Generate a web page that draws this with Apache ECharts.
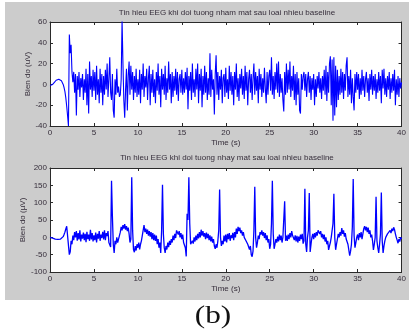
<!DOCTYPE html>
<html>
<head>
<meta charset="utf-8">
<script src="https://cdn.jsdelivr.net/npm/echarts@6/dist/echarts.min.js"></script>
<style>
  html, body { margin: 0; padding: 0; background: #fff; }
  #bg { position: absolute; left: 5px; top: 2px; width: 404px; height: 298px; background: #cccccc; }
  #chart { position: absolute; left: 0; top: 0; width: 409px; height: 335px; }
</style>
</head>
<body>
<div id="bg"></div>
<div id="chart"></div>
<script>
// sample step in seconds (values every 0.1 s)
const TIME_STEP = 0.1;

const titleTop = 'Tin hieu EEG khi doi tuong nham mat sau loai nhieu baseline';
const titleBottom = 'Tin hieu EEG khi doi tuong nhay mat sau loai nhieu baseline';

const timeTicks = [0, 40, 5];          // min, max, step
const topTicks = [-40, 60, 20];
const bottomTicks = [-100, 200, 50];

// eyes closed (uV), one row per second
const nhamMat = [
  -1, -1, -0.5, 0, 1, 2, 3, 4, 4.5, 5,
  5, 5, 4.5, 3.5, 2, 0, -3, -7, -13, -21,
  -30, -40, 48, 30, 38, 12, 2, 12, -8, 10,
  -30, 8, -5, 12, -12, 6, -3, 10, -15, 5,
  -8, 15, -20, 10, -28, 22, -5, 8, -12, 14,
  -6, 12, -15, 18, -10, 5, -18, 15, -8, 10,
  -20, 8, -10, 14, -5, 20, -12, 6, 26, -8,
  -15, 10, -25, -32, 5, -10, 15, -8, -2, -12,
  -10, 5, 62, 20, -15, -32, -5, 15, -25, 8,
  22, -10, 18, -5, 12, -15, 8, -8, 15, -12,
  5, -10, 14, -18, 10, -5, 20, -12, 8, -3,
  15, -15, 6, 18, -20, 10, -8, 14, -12, 5,
  -18, 12, -6, 20, -10, 8, -22, 15, -5, 10,
  -10, 18, -15, 6, -8, 22, -5, 10, -18, 12,
  -12, 8, -6, 15, -10, 12, -16, 5, 10, -8,
  14, -10, 6, -8, 12, -5, 16, -24, 8, -6,
  12, -15, 20, -8, 5, -12, 15, -5, 20, -18,
  10, -6, 15, -22, 8, -10, 18, -8, 12, -15,
  6, -10, 30, -12, 14, -5, 5, -29, 10, 28,
  -10, 12, -15, 8, -5, 14, -18, 6, 10, -12,
  16, -8, 5, -14, 18, -6, 12, -10, 8, -20,
  12, -5, 20, -12, 6, -16, 10, -4, 15, -10,
  8, -14, 18, -6, 12, -20, 5, 14, -8, 10,
  -15, 6, 20, -10, 12, -6, 8, -18, 15, -5,
  10, -12, 6, -8, 16, -4, -18, 12, -10, 8,
  14, -6, 26, -10, 8, -14, 12, -5, 20, -8,
  22, -12, 10, -8, 6, -15, -26, 12, -10, 20,
  -8, 14, -5, 22, -12, 8, -6, 18, -15, 10,
  -20, 12, -10, 6, -25, -28, 10, -5, 8, 12,
  -6, 10, -12, 5, 12, -8, 8, -15, 6, -5,
  10, -20, 5, -12, 8, -4, 12, -8, 6, -14,
  8, -6, 14, -10, 18, -16, 12, -8, 20, 27,
  -20, 24, -35, 26, -30, 18, -22, 14, -15, 8,
  -10, 15, -8, 12, -14, 10, -6, 18, 26, -12,
  8, -10, 14, -18, 6, -12, -25, 10, -8, 12,
  -5, 10, -14, 6, -10, 14, -6, 8, -12, 5,
  12, -8, 6, -16, 10, -5, 14, -10, 8, -6,
  10, -14, 5, -8, 12, -6, 8, -18, 14, -4,
  15, -10, 6, -12, 8, -5, 12, -14, 6, -8,
  10, -6, 14, -20, 5, -10, 8, -12, 6, -4,
  2
];

// eyes blinking (uV), one row per second
const nhayMat = [
  0, 0, -1, -2, -3, -4, -5, -5, -6, -6,
  -6, -6, -5, -4, -2, 2, 8, 15, 24, 32,
  37, 30, -50, -42, -10, -20, 5, -8, 15, 0,
  18, -10, 12, -6, 20, -12, 8, -4, 14, -8,
  10, -14, 16, -5, 8, -10, 22, -6, 12, -12,
  6, -8, 14, -15, 10, -4, 18, -10, 8, -2,
  16, -6, 20, -8, 12, 4, 18, -15, -20, -28,
  163, 60, -20, -45, -10, -20, 0, -15, -5, 5,
  15, 30, 20, 35, 25, 38, 22, 32, 18, 28,
  10, -15, -5, 173, 20, -35, -43, -25, -38, -20,
  -30, -15, -35, -20, -10, 5, 20, 35, 15, 25,
  10, 22, 5, 18, 2, 15, -5, 12, -8, 8,
  -10, 5, -20, -5, -30, -15, -45, 20, 152, 10,
  -30, -45, -25, -35, -15, -28, -10, -22, -5, -15,
  5, -8, 10, -2, 20, 25, 8, 18, 0, 12,
  -5, 8, -15, -10, -30, -55, 68, 50, 173, 40,
  -20, -25, -10, -18, 0, -12, 5, -8, 10, -3,
  15, 0, 22, 5, 18, 2, 12, -5, 14, -2,
  10, -8, 6, -12, 2, -15, -5, -25, -33, -20,
  -30, -10, 20, 138, 0, -25, -10, -20, 5, -12,
  8, -15, 10, -5, 12, -10, 6, -2, 13, -8,
  15, 0, 25, 10, 30, 18, 28, 12, 20, 5,
  15, 0, 5, -10, -5, -20, -15, -35, -25, -50,
  -56, -40, 20, 146, 0, -30, -15, 5, -5, 15,
  8, 20, 5, 15, -2, 12, -8, 6, -15, -5,
  -33, -20, 40, 163, 10, -33, -20, -5, -15, 2,
  -12, 8, -8, 5, -15, 0, -5, 104, -10, 5,
  -10, 8, -5, 12, 0, 18, 5, 10, -8, 6,
  -12, 4, -15, 2, -10, 8, -5, 10, -18, -10,
  140, -20, -42, 0, 20, 128, -42, -20, 0, 10,
  -5, 12, 0, 15, 5, 20, 24, 10, 18, 0,
  10, -5, 8, -12, 0, -20, -10, -36, -25, -15,
  0, -5, 40, 126, 0, -36, -20, -5, 10, 0,
  15, 5, 27, 10, 20, 2, 12, -5, 0, -20,
  -15, -53, -40, -20, 30, 168, 5, -30, -15, 0,
  8, -8, 12, 0, 15, -5, 10, 25, 32, 20,
  30, 15, 28, 10, 20, 0, 8, -10, -36, -20,
  0, 117, -10, -30, -45, -20, 10, 129, -10, -45,
  -25, -10, 0, 5, 10, 15, 8, 20, 12, 25,
  18, 29, 22, 10, 0, -8, -17, -5, -12, 0,
  -5
];

const toPairs = arr => arr.map((v, i) => [+(i * TIME_STEP).toFixed(1), v]);

const FONT = 'Liberation Sans, Arial, sans-serif';
const TEXT_COLOR = '#352d3a';
const AXIS_COLOR = '#2a2a2a';

function xAxisOf(grid, pos) {
  const main = pos === 'bottom';
  return {
    gridIndex: grid, type: 'value', position: pos,
    min: timeTicks[0], max: timeTicks[1], interval: timeTicks[2],
    axisLine: { onZero: false, lineStyle: { color: AXIS_COLOR, width: 1 } },
    axisTick: { inside: true, length: 3, lineStyle: { color: AXIS_COLOR } },
    axisLabel: { show: main, fontSize: 8, margin: 3, color: TEXT_COLOR, fontFamily: FONT },
    splitLine: { show: false },
    name: main ? 'Time (s)' : '', nameLocation: 'middle', nameGap: 13, nameMoveOverlap: false,
    nameTextStyle: { fontSize: 8, color: TEXT_COLOR, fontFamily: FONT }
  };
}

function yAxisOf(grid, pos, ticks, name, gap) {
  const main = pos === 'left';
  return {
    gridIndex: grid, type: 'value', position: pos,
    min: ticks[0], max: ticks[1], interval: ticks[2],
    axisLine: { show: true, onZero: false, lineStyle: { color: AXIS_COLOR, width: 1 } },
    axisTick: { show: true, inside: true, length: 3, lineStyle: { color: AXIS_COLOR } },
    axisLabel: { show: main, fontSize: 8, margin: 3, color: TEXT_COLOR, fontFamily: FONT },
    splitLine: { show: false },
    name: main ? name : '', nameLocation: 'middle', nameGap: gap, nameMoveOverlap: false,
    nameTextStyle: { fontSize: 8, color: TEXT_COLOR, fontFamily: FONT }
  };
}

const myChart = echarts.init(document.getElementById('chart'), null, { renderer: 'canvas' });

const option = {
  animation: false,
  title: [
    { text: titleTop, left: 227, top: 9, textAlign: 'center', padding: 0,
      textStyle: { fontSize: 8, fontWeight: 'normal', color: TEXT_COLOR, fontFamily: FONT } },
    { text: titleBottom, left: 227, top: 154, textAlign: 'center', padding: 0,
      textStyle: { fontSize: 8, fontWeight: 'normal', color: TEXT_COLOR, fontFamily: FONT } }
  ],
  grid: [
    { left: 50, right: 4, top: 22, height: 104, show: true, backgroundColor: '#fff', borderWidth: 0 },
    { left: 50, right: 4, top: 168, height: 104, show: true, backgroundColor: '#fff', borderWidth: 0 }
  ],
  xAxis: [
    xAxisOf(0, 'bottom'), xAxisOf(0, 'top'),
    xAxisOf(1, 'bottom'), xAxisOf(1, 'top')
  ],
  yAxis: [
    yAxisOf(0, 'left', topTicks, 'Bien do (uV)', 18), yAxisOf(0, 'right', topTicks, '', 0),
    yAxisOf(1, 'left', bottomTicks, 'Bien do (\u00b5V)', 23), yAxisOf(1, 'right', bottomTicks, '', 0)
  ],
  series: [
    {
      type: 'line', xAxisIndex: 0, yAxisIndex: 0, data: toPairs(nhamMat),
      symbol: 'none', clip: true, lineStyle: { color: '#0000ff', width: 1.1 }
    },
    {
      type: 'line', xAxisIndex: 2, yAxisIndex: 2, data: toPairs(nhayMat),
      symbol: 'none', clip: true, lineStyle: { color: '#0000ff', width: 1.3 }
    }
  ],
  graphic: [
    { type: 'text', x: 213, y: 316, scaleX: 1.25,
      style: { text: '(b)', font: '25px "Liberation Serif", "Times New Roman", serif', fill: '#111',
        align: 'center', verticalAlign: 'middle' } }
  ]
};

myChart.setOption(option);
</script>
</body>
</html>
